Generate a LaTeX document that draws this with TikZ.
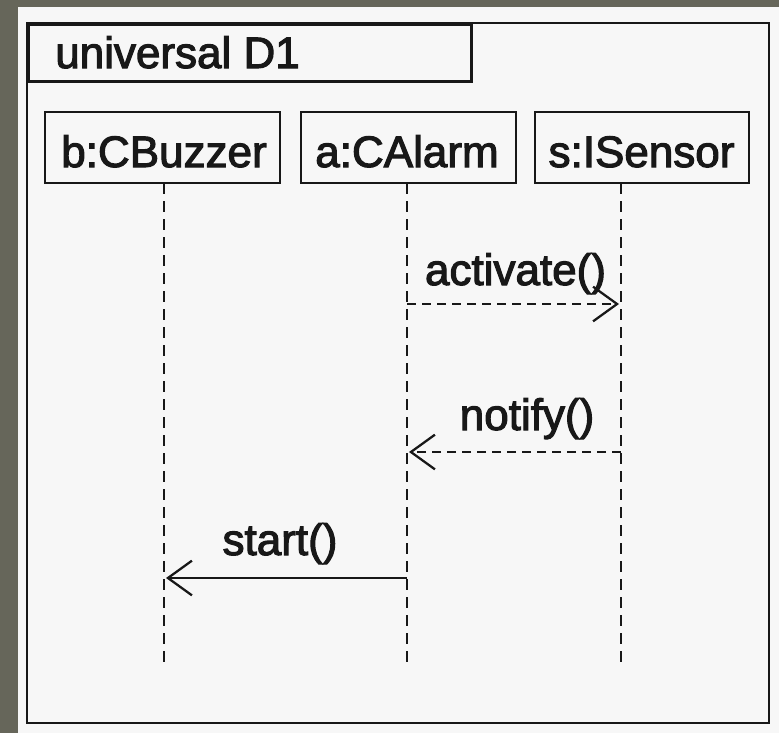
\documentclass[tikz,border=0pt]{standalone}
\usepackage{fontspec}
\setmainfont{Liberation Sans}
\newfontfamily\umlfont[FakeBold=2.5]{Liberation Sans}
\usetikzlibrary{arrows.meta}
\definecolor{outer}{RGB}{102,102,90}
\definecolor{paper}{RGB}{247,247,247}
\definecolor{ink}{RGB}{24,24,24}
\tikzset{
  frameline/.style={draw=ink, line width=2.1pt},
  lifebox/.style={draw=ink, line width=1.7pt, inner sep=0pt, minimum height=53.25pt},
  umltext/.style={inner sep=0pt, text=ink, font=\umlfont\fontsize{33pt}{38pt}\selectfont},
  lifeline/.style={draw=ink, line width=1.7pt, dash pattern=on 8.25pt off 5.25pt},
  callmsg/.style={draw=ink, line width=1.7pt, -{Straight Barb[length=18pt, width=26pt, line width=1.7pt]}},
  asyncmsg/.style={callmsg, dash pattern=on 6.75pt off 4.5pt},
}
\begin{document}
\begin{tikzpicture}[x=0.75pt, y=-0.75pt]
  \useasboundingbox (0,0) rectangle (779,733);
  % surroundings and sheet
  \fill[outer] (0,0) rectangle (779,733);
  \fill[paper] (18,7) rectangle (779,733);

  % diagram frame with its name tab
  \draw[frameline] (27,23) rectangle (769,723);
  \node[frameline, anchor=north west, inner sep=0pt, minimum width=332.25pt, minimum height=42.75pt] (tab) at (27,23) {};
  \node[umltext, anchor=base west] (tabname) at (55,68) {universal D1};

  % participants
  \node[lifebox, minimum width=176.25pt] (bbox) at (162.5,147.5) {};
  \node[lifebox, minimum width=161.25pt] (abox) at (408.5,147.5) {};
  \node[lifebox, minimum width=160.5pt]  (sbox) at (642,147.5) {};
  \node[umltext, anchor=base] (bname) at (164,167) {b:CBuzzer};
  \node[umltext, anchor=base] (aname) at (407,167) {a:CAlarm};
  \node[umltext, anchor=base] (sname) at (641.5,167) {s:ISensor};

  % lifelines
  \coordinate (btop) at (164,183);  \coordinate (bend) at (164,665);
  \coordinate (atop) at (407,183);  \coordinate (aend) at (407,665);
  \coordinate (stop) at (621,183);  \coordinate (send) at (621,665);
  \draw[lifeline] (btop) -- (bend);
  \draw[lifeline] (atop) -- (aend);
  \draw[lifeline] (stop) -- (send);

  % message ends on the lifelines
  \coordinate (a1) at (407,304); \coordinate (s1) at (619,304);
  \coordinate (s2) at (621,452); \coordinate (a2) at (409,452);
  \coordinate (a3) at (407,578); \coordinate (b3) at (166,578);

  % messages
  \draw[asyncmsg] (a1) -- (s1);
  \node[umltext, anchor=base] (m1) at (515.5,285) {activate()};
  \draw[asyncmsg] (s2) -- (a2);
  \node[umltext, anchor=base] (m2) at (527,430) {notify()};
  \draw[callmsg] (a3) -- (b3);
  \node[umltext, anchor=base] (m3) at (280,555) {start()};
\end{tikzpicture}
\end{document}
